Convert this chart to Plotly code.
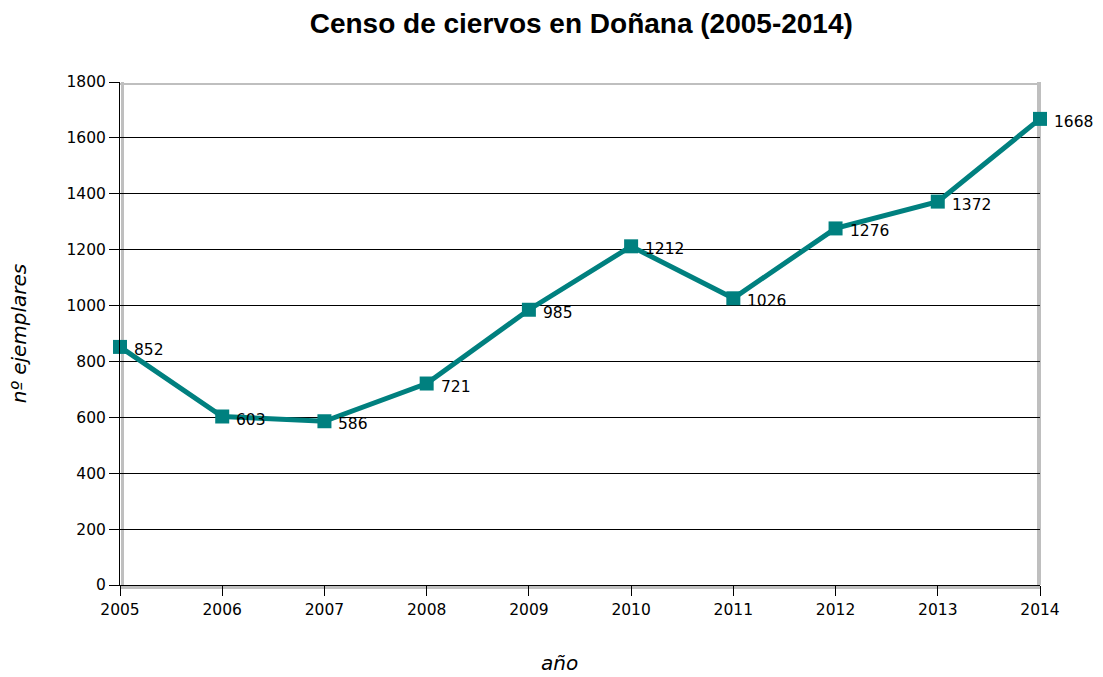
import plotly.graph_objects as go

years = [2005, 2006, 2007, 2008, 2009, 2010, 2011, 2012, 2013, 2014]
deer = [852, 603, 586, 721, 985, 1212, 1026, 1276, 1372, 1668]
y_ticks = [0, 200, 400, 600, 800, 1000, 1200, 1400, 1600, 1800]

teal = "#00807f"
font = "DejaVu Sans"

fig = go.Figure()
fig.add_trace(go.Scatter(
    x=years, y=deer, mode="lines+markers",
    line=dict(color=teal, width=5),
    marker=dict(symbol="square", size=14, color=teal),
    cliponaxis=False, showlegend=False,
))

for yr, v in zip(years, deer):
    fig.add_annotation(x=yr, y=v, text=str(v), showarrow=False,
                       xanchor="left", yanchor="middle", xshift=12, yshift=-3,
                       font=dict(family=font, size=15.5, color="black"))

# x axis title
fig.add_annotation(xref="paper", yref="paper", x=0.478, y=0, yshift=-78,
                   xanchor="center", yanchor="middle", showarrow=False,
                   text="<i>año</i>", font=dict(family=font, size=20, color="black"))

# shadow frame
grey = "#bfbfbf"
fig.add_shape(type="rect", xref="paper", yref="paper", xsizemode="pixel", xanchor=0,
              x0=1, x1=4, y0=0, y1=1, fillcolor=grey, line_width=0, layer="below")
fig.add_shape(type="rect", xref="paper", yref="paper", ysizemode="pixel", yanchor=0,
              y0=-4, y1=-1, x0=0, x1=1, fillcolor=grey, line_width=0, layer="below")
fig.add_shape(type="rect", xref="paper", yref="paper", ysizemode="pixel", yanchor=1,
              y0=-3, y1=-1, x0=0, x1=1, fillcolor=grey, line_width=0, layer="below")
fig.add_shape(type="rect", xref="paper", yref="paper", xsizemode="pixel", xanchor=1,
              x0=-3, x1=1, y0=0, y1=1, fillcolor=grey, line_width=0, layer="below")

fig.update_layout(
    width=1103, height=677,
    margin=dict(l=120, r=63, t=82, b=92),
    paper_bgcolor="white", plot_bgcolor="white",
    title=dict(text="<b>Censo de ciervos en Doñana (2005-2014)</b>",
               x=0.527, xanchor="center", y=0.965, yanchor="middle",
               font=dict(family="Liberation Sans", size=28, color="black")),
    font=dict(family=font, size=15, color="black"),
)
fig.update_xaxes(
    range=[2005, 2014], tickvals=years, ticktext=[str(y) for y in years],
    ticks="outside", ticklen=10, tickcolor="black", showgrid=False,
    showline=True, linecolor="black", linewidth=1, zeroline=False,
    tickfont=dict(family=font, size=15.5), automargin=False,
)
fig.update_yaxes(
    range=[0, 1800], tickvals=y_ticks,
    ticks="outside", ticklen=10, tickcolor="black",
    showgrid=True, gridcolor="black", gridwidth=1,
    showline=True, linecolor="black", linewidth=1, zeroline=False,
    tickfont=dict(family=font, size=15.5), automargin=False,
    title=dict(text="<i>nº ejemplares</i>", font=dict(family=font, size=20), standoff=34),
)
fig.write_html("out.html", config={"displayModeBar": False},
               post_script="document.body.style.margin='0';document.body.style.overflow='hidden';")
